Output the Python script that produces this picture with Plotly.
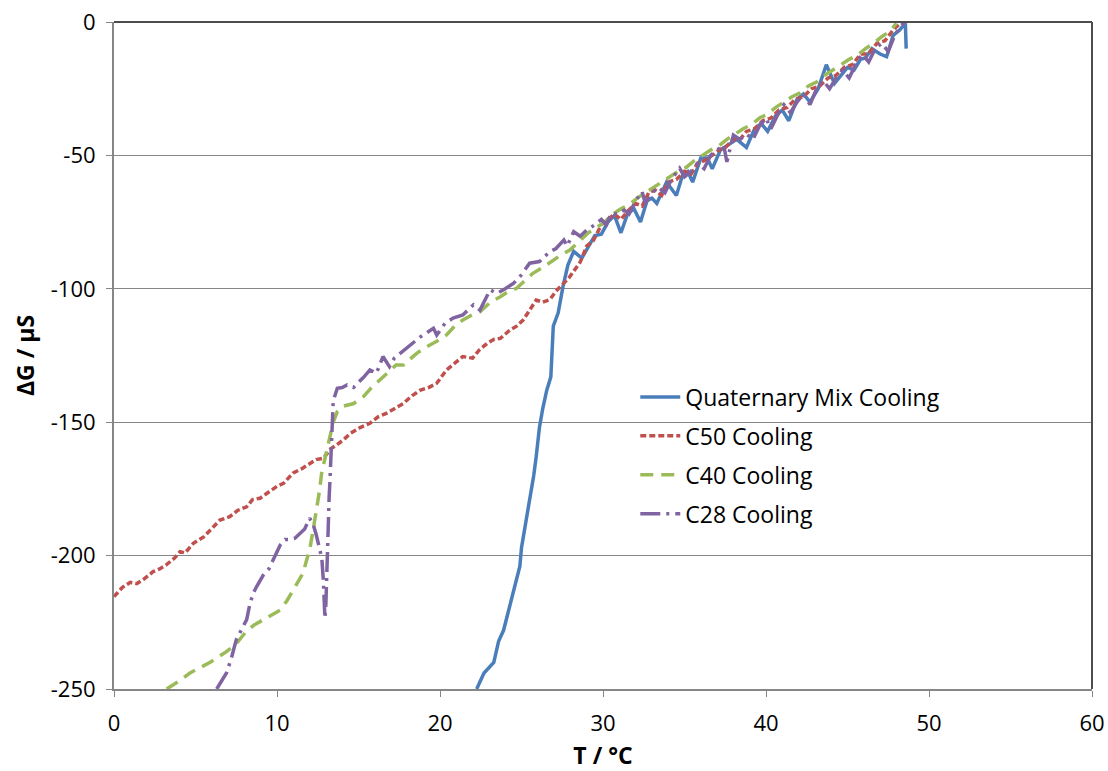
import plotly.graph_objects as go

# ---------------- data ----------------
t_quat = [22.25, 22.7, 23.3, 23.6, 23.9, 24.2, 24.4, 24.7, 24.9, 25.0, 25.2, 25.4, 25.6, 25.75,
          25.9, 26.1, 26.3, 26.55, 26.8, 26.95, 27.25, 27.55, 27.85, 28.2, 28.7, 29.1, 29.5, 29.9,
          30.3, 30.7, 31.1, 31.5, 31.9, 32.3, 32.7, 33.0, 33.3, 33.9, 34.5, 34.9, 35.2, 35.5,
          36.0, 36.4, 36.7, 37.2, 37.7, 38.2, 38.8, 39.3, 39.7, 40.1, 40.6, 41.0, 41.4, 41.9,
          42.3, 42.7, 43.2, 43.7, 44.2, 44.7, 45.0, 45.4, 45.8, 46.1, 46.5, 47.0, 47.4, 47.8,
          48.2, 48.55, 48.6]
g_quat = [-250, -244, -240, -232, -228, -221, -216, -209, -204, -197, -190, -183, -177, -170,
          -163, -152, -145, -138, -133, -114, -109, -99, -91, -86, -88.5, -84, -80, -79.5,
          -75, -72.5, -79, -72, -70, -75, -67, -66, -68, -60, -65, -57, -56, -60,
          -51, -51, -55, -48, -46, -44, -47, -40, -38, -41, -35, -33, -37, -29,
          -27, -30, -25, -16, -23, -19, -17, -18, -14, -13.5, -10, -12, -13, -5,
          -3, -0.5, -10]

t_c50 = [0, 0.5, 1.0, 1.4, 1.8, 2.4, 2.8, 3.2, 3.7, 4.05, 4.36, 4.87, 5.5, 6.0, 6.5, 7.1, 7.6,
         8.14, 8.5, 8.96, 9.57, 10.0, 10.4, 11.0, 11.5, 12.0, 12.4, 12.84, 13.3, 13.66, 14.1,
         14.5, 15.1, 15.7, 16.2, 16.7, 17.2, 17.75, 18.3, 18.8, 19.3, 19.8, 20.4, 20.9, 21.4,
         22.0, 22.4, 22.9, 23.3, 23.7, 24.3, 24.7, 25.1, 25.5, 25.9, 26.3, 26.75, 27.1, 27.4,
         27.9, 28.6, 29.0, 29.4, 29.9, 30.3, 30.7, 31.1, 31.5, 32.0, 32.4, 32.8, 33.2, 33.6,
         34.0, 34.5, 35.0, 35.4, 35.8, 36.2, 36.7, 37.1, 37.5, 38.0, 38.4, 38.8, 39.3, 39.8,
         40.3, 40.8, 41.3, 41.8, 42.3, 42.8, 43.3, 43.8, 44.3, 44.8, 45.3, 45.8, 46.3, 46.8,
         47.3, 47.8, 48.3]
g_c50 = [-215.4, -212, -210, -210.5, -209, -206, -205, -203.5, -201, -198.5, -199, -195.4,
         -193, -190, -186.7, -185.4, -183, -181.7, -179, -178.5, -176, -174, -172.9, -169,
         -167.5, -165.4, -164, -163.5, -160, -158.5, -156.5, -154.2, -152, -150.4, -148,
         -146.7, -145, -143, -140, -138, -137, -135.4, -130.4, -128, -125.4, -126, -123,
         -120.4, -119, -118.6, -115.4, -114, -111.7, -108, -104.2, -105, -104, -101, -99.2,
         -96, -90, -84, -82, -76, -74, -72, -74, -71, -68, -69, -64, -63, -65,
         -60, -59, -56, -57, -53, -52, -50, -48, -47, -44, -44, -41, -40, -37,
         -36, -33, -32, -29, -28, -25, -24, -21, -20, -17, -16, -12, -12, -8,
         -7, -3, 0]

t_c40 = [3.23, 4.0, 4.66, 5.3, 5.9, 6.4, 6.9, 7.5, 8.1, 8.6, 9.2, 9.7, 10.2, 10.6, 10.9, 11.3,
         11.6, 11.8, 12.0, 12.2, 12.4, 12.6, 12.74, 13.0, 13.25, 13.45, 13.7, 14.07, 14.7, 15.3,
         15.8, 16.3, 16.8, 17.3, 17.75, 18.2, 18.57, 19.1, 19.6, 20.0, 20.4, 20.9, 21.4, 21.9,
         22.45, 23.1, 23.7, 24.2, 24.7, 25.2, 25.7, 26.3, 26.95, 27.5, 27.97, 28.6, 29.1, 29.6,
         30.1, 30.6, 31.1, 31.6, 32.1, 32.6, 33.1, 33.6, 34.1, 34.6, 35.1, 35.6, 36.1, 36.6,
         37.1, 37.6, 38.1, 38.6, 39.1, 39.6, 40.1, 40.6, 41.1, 41.6, 42.1, 42.6, 43.1, 43.6,
         44.1, 44.6, 45.1, 45.6, 46.1, 46.6, 47.1, 47.6, 48.0]
g_c40 = [-250, -247, -244, -242, -240, -238, -236, -233, -228.5, -226, -224, -222, -220.4, -217,
         -214, -210, -206.6, -202, -198, -191, -184, -176, -169, -162, -156.7, -150, -146, -144,
         -143, -140.4, -137, -134.2, -131, -128.6, -128.6, -126, -124.2, -122, -120.4, -119,
         -117.3, -114, -111.7, -110, -108.6, -105, -103, -101, -99.8, -97, -94.2, -92, -89.2,
         -87, -85.5, -81.7, -79, -77, -75, -72, -70, -68.5, -66, -64, -62, -60, -58, -56,
         -54.5, -52, -50, -48, -46.5, -44, -42, -40, -38.5, -36, -34.5, -32, -30, -28, -26.5,
         -24, -22.5, -20, -18, -16, -14, -12.5, -10, -8, -5.5, -3.5, -0.5]

t_c28 = [6.3, 6.6, 6.9, 7.2, 7.5, 7.8, 8.14, 8.34, 8.55, 8.75, 9.16, 9.5, 9.77, 10.2, 10.5, 10.8,
         11.1, 11.4, 11.7, 12.0, 12.2, 12.4, 12.6, 12.75, 12.84, 12.9, 12.94, 13.0, 13.05, 13.1,
         13.15, 13.2, 13.25, 13.3, 13.35, 13.4, 13.45, 13.7, 14.0, 14.3, 14.7, 15.0, 15.3, 15.7,
         16.1, 16.5, 16.9, 17.2, 17.55, 18.16, 18.8, 19.3, 19.6, 19.8, 20.3, 20.8, 21.4, 22.05,
         22.45, 23.07, 23.5, 24.0, 24.5, 24.9, 25.5, 26.1, 26.75, 27.1, 27.4, 27.6, 27.8, 28.2,
         28.6, 29.0, 29.5, 29.9, 30.2, 30.5, 30.9, 31.3, 31.6, 32.0, 32.4, 32.6, 33.0, 33.4,
         33.8, 34.2, 34.7, 35.0, 35.4, 35.8, 36.2, 36.6, 37.0, 37.4, 37.6, 38.0, 38.4, 38.8,
         39.2, 39.6, 40.0, 40.3, 40.7, 41.1, 41.5, 41.9, 42.3, 42.7, 43.1, 43.5, 43.9, 44.3,
         44.7, 45.1, 45.5, 45.9, 46.3, 46.7, 47.1, 47.5, 47.9, 48.2, 48.5]
g_c28 = [-250, -247, -244, -238.5, -231.6, -228, -224, -218, -214, -211.6, -207.3, -205, -201.6,
         -196, -194, -194, -193.5, -191.6, -190, -186, -188, -192, -196.7, -201, -209, -216,
         -223.5, -218, -205, -195, -186, -178, -171.7, -163, -155, -146, -142, -137.3, -137,
         -136, -137, -135, -133.3, -130.4, -131.7, -125.4, -129.2, -126, -124.2, -121, -118,
         -116, -114.8, -117.3, -113, -111, -109.8, -106, -108, -100.4, -101.7, -100, -98,
         -95.5, -90.4, -89.8, -86, -85, -83, -81.7, -84, -78.6, -80.3, -78, -76, -74, -76,
         -71.7, -72, -70.5, -72, -67, -63.6, -68, -64, -62, -64, -59, -54.8, -58, -56, -53,
         -55, -50, -48, -46, -52.4, -42.4, -44, -42, -44, -39, -36, -40, -35, -31, -34, -30,
         -27, -31, -25, -22, -25, -21, -18, -21, -16, -12, -15, -10, -8, -11, -5, -2, 0]

names = ["Quaternary Mix Cooling", "C50 Cooling", "C40 Cooling", "C28 Cooling"]
colors = ["#4A7EBB", "#C0504D", "#9BBB59", "#8064A2"]
dashes = ["solid", "6px,3px", "13px,8px", "20px,6px,3px,6px"]

x_ticks = [0, 10, 20, 30, 40, 50, 60]
y_ticks = [0, -50, -100, -150, -200, -250]

FONT = "Open Sans"

fig = go.Figure()
for i, (tx, gy) in enumerate([(t_quat, g_quat), (t_c50, g_c50), (t_c40, g_c40), (t_c28, g_c28)]):
    fig.add_trace(go.Scatter(
        x=tx, y=gy, mode="lines", name=names[i], legendgroup=str(i),
        line=dict(color=colors[i], width=3.5, dash=dashes[i]),
    ))

fig.update_layout(
    width=1108, height=771,
    margin=dict(l=114, r=16, t=22, b=82, autoexpand=False),
    paper_bgcolor="white", plot_bgcolor="white",
    font=dict(family=FONT, size=22, color="#000000"),
    showlegend=True,
    legend=dict(x=0.533, y=0.47, xanchor="left", yanchor="top",
                bgcolor="rgba(0,0,0,0)", borderwidth=0, tracegroupgap=6,
                itemwidth=40,
                font=dict(family=FONT, size=23, color="#000000")),
)
fig.update_xaxes(
    range=[0, 60], tickvals=x_ticks, ticktext=[str(v) for v in x_ticks],
    showgrid=False, zeroline=False, automargin=False,
    showline=True, linecolor="#868686", linewidth=2,
    ticks="outside", ticklen=6, tickcolor="#868686", tickwidth=1,
    ticklabelstandoff=8,
    title=dict(text="<b>T / °C</b>", font=dict(family=FONT, size=23), standoff=12),
)
fig.update_yaxes(
    range=[-250, 0], tickvals=y_ticks, ticktext=[str(v) for v in y_ticks],
    showgrid=True, gridcolor="#868686", gridwidth=1, zeroline=False, automargin=False,
    showline=True, linecolor="#868686", linewidth=2,
    ticks="outside", ticklen=6, tickcolor="#868686", tickwidth=1,
    ticklabelstandoff=6,
    title=dict(text="<b>ΔG / µS</b>", font=dict(family=FONT, size=23), standoff=10),
)
# plot-area border on top and right
fig.add_shape(type="line", xref="x domain", yref="y domain", x0=0, x1=1, y0=1, y1=1,
              line=dict(color="#4D4D4D", width=2))
fig.add_shape(type="line", xref="x domain", yref="y domain", x0=1, x1=1, y0=0, y1=1,
              line=dict(color="#4D4D4D", width=2))

fig.write_html("out.html")
